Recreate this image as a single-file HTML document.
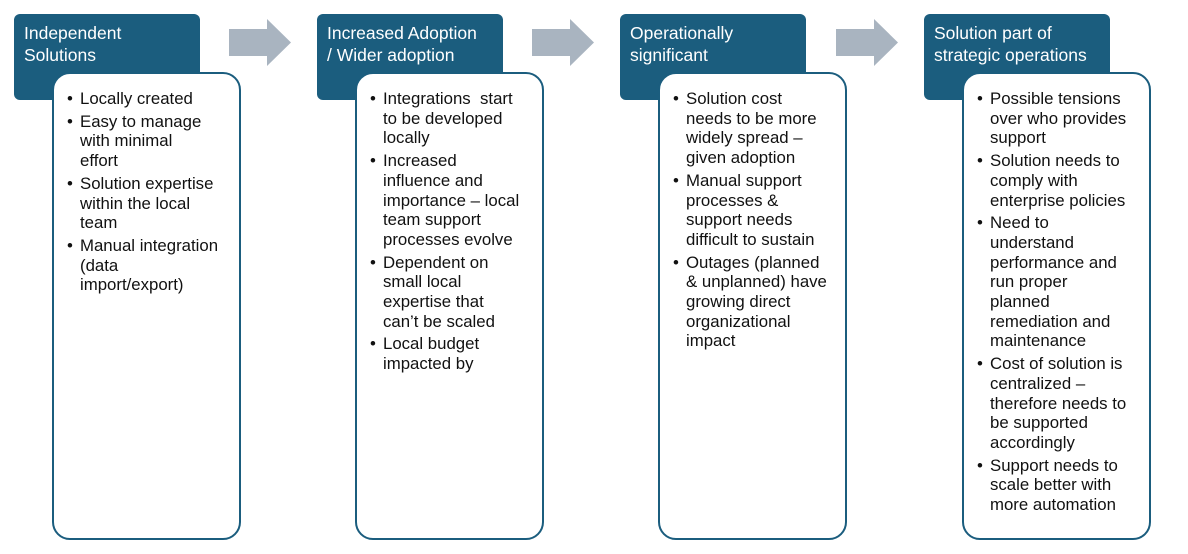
<!DOCTYPE html>
<html><head><meta charset="utf-8"><style>
body{margin:0;width:1188px;height:554px;background:#fff;position:relative;overflow:hidden;font-family:"Liberation Sans",sans-serif}
.h{position:absolute;top:14px;width:186px;height:86px;background:#1b5d7e;border-radius:6px;color:#fff;font-size:17.5px;line-height:22px;box-sizing:border-box;padding:8px 0 0 10px;white-space:nowrap}
.b{position:absolute;top:72px;width:189px;height:468px;background:#fff;border:2px solid #1b5d7e;border-radius:18px;box-sizing:border-box}
ul{margin:0;padding:0;list-style:none;position:absolute;left:12px;top:15px}
li{position:relative;padding-left:14px;font-size:16.8px;line-height:19.7px;color:#111;white-space:nowrap;margin-bottom:3px}
li:before{content:"•";position:absolute;left:1px;top:0}
.a{position:absolute;top:19px}
</style></head><body>
<div class="h" style="left:14px">Independent<br>Solutions</div>
<div class="b" style="left:52px"><ul>
<li>Locally created</li>
<li>Easy to manage<br>with minimal<br>effort</li>
<li>Solution expertise<br>within the local<br>team</li>
<li>Manual integration<br>(data<br>import/export)</li></ul></div>

<div class="h" style="left:317px">Increased Adoption<br>/ Wider adoption</div>
<div class="b" style="left:355px"><ul>
<li>Integrations&nbsp; start<br>to be developed<br>locally</li>
<li>Increased<br>influence and<br>importance – local<br>team support<br>processes evolve</li>
<li>Dependent on<br>small local<br>expertise that<br>can’t be scaled</li>
<li>Local budget<br>impacted by</li></ul></div>

<div class="h" style="left:620px">Operationally<br>significant</div>
<div class="b" style="left:658px"><ul>
<li>Solution cost<br>needs to be more<br>widely spread –<br>given adoption</li>
<li>Manual support<br>processes &amp;<br>support needs<br>difficult to sustain</li>
<li>Outages (planned<br>&amp; unplanned) have<br>growing direct<br>organizational<br>impact</li></ul></div>

<div class="h" style="left:924px">Solution part of<br>strategic operations</div>
<div class="b" style="left:962px"><ul>
<li>Possible tensions<br>over who provides<br>support</li>
<li>Solution needs to<br>comply with<br>enterprise policies</li>
<li>Need to<br>understand<br>performance and<br>run proper<br>planned<br>remediation and<br>maintenance</li>
<li>Cost of solution is<br>centralized –<br>therefore needs to<br>be supported<br>accordingly</li>
<li>Support needs to<br>scale better with<br>more automation</li></ul></div>

<svg class="a" style="left:229px" width="62" height="47"><polygon points="0,10 38,10 38,0 62,23.5 38,47 38,37 0,37" fill="#a9b4c0"/></svg>
<svg class="a" style="left:532px" width="62" height="47"><polygon points="0,10 38,10 38,0 62,23.5 38,47 38,37 0,37" fill="#a9b4c0"/></svg>
<svg class="a" style="left:836px" width="62" height="47"><polygon points="0,10 38,10 38,0 62,23.5 38,47 38,37 0,37" fill="#a9b4c0"/></svg>
</body></html>
